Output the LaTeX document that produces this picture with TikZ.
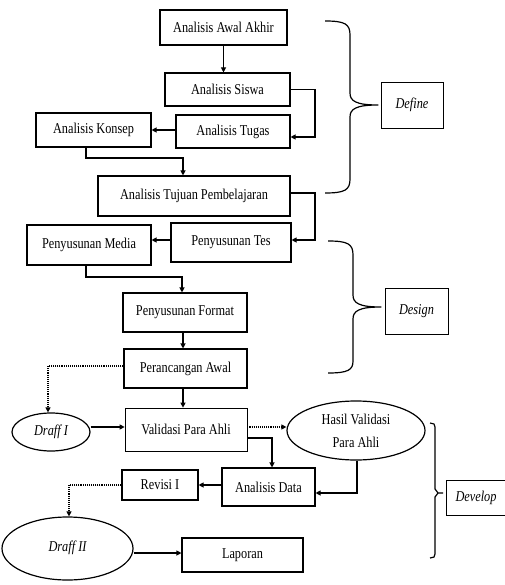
\documentclass[tikz,border=0pt]{standalone}
\usepackage{fontspec}
\setmainfont{Liberation Serif}[FakeStretch=0.82]
\usetikzlibrary{arrows.meta,shapes.geometric}
\tikzset{
  box/.style={draw,line width=1.1pt,inner sep=0pt,font=\fontsize{15}{17}\selectfont},
  thinbox/.style={draw,line width=0.7pt,inner sep=0pt,font=\fontsize{15}{17}\selectfont},
  oval/.style={draw,ellipse,line width=1.2pt,inner sep=0pt,font=\fontsize{15}{17}\selectfont},
  conn/.style={line width=1.1pt,-{Triangle[length=5pt,width=5pt]}},
  dotconn/.style={line width=1.1pt,densely dotted,-{Triangle[length=5pt,width=5pt]}},
  brace/.style={line width=1.2pt,line join=round}
}
\begin{document}
\begin{tikzpicture}[x=1pt,y=-1pt]
\useasboundingbox (0,0) rectangle (504,585);
% nodes
\node[box,minimum width=127pt,minimum height=35pt] (aaa) at (223.5,27.5) {Analisis Awal Akhir};
\node[box,minimum width=125pt,minimum height=33pt] (siswa) at (227.5,89.5) {Analisis Siswa};
\node[box,minimum width=114pt,minimum height=33pt] (tugas) at (233,131.5) {Analisis Tugas};
\node[box,minimum width=115pt,minimum height=34pt] (konsep) at (93.5,130) {Analisis Konsep};
\node[box,minimum width=192pt,minimum height=40pt] (tujuan) at (194,196) {Analisis Tujuan Pembelajaran};
\node[box,minimum width=120pt,minimum height=39pt] (tes) at (231,242.5) {Penyusunan Tes};
\node[box,minimum width=124pt,minimum height=40pt] (media) at (89,245) {Penyusunan Media};
\node[box,minimum width=124pt,minimum height=39pt] (format) at (185,312.5) {Penyusunan Format};
\node[box,minimum width=123pt,minimum height=39pt] (awal) at (185.5,368.5) {Perancangan Awal};
\node[oval,minimum width=78pt,minimum height=38pt] (draff1) at (51,432) {\itshape Draff I};
\node[thinbox,minimum width=122pt,minimum height=43pt] (valid) at (186,429.5) {Validasi Para Ahli};
\node[oval,minimum width=138pt,minimum height=59pt,align=center] (hasil) at (356,430.5) {Hasil Validasi\\[6pt]Para Ahli};
\node[box,minimum width=93pt,minimum height=38pt] (data) at (268.5,487) {Analisis Data};
\node[box,minimum width=76pt,minimum height=30pt] (revisi) at (160,485) {Revisi I};
\node[oval,minimum width=131pt,minimum height=63pt] (draff2) at (67.5,548.5) {\raisebox{4pt}{\itshape Draff II}};
\node[box,minimum width=121pt,minimum height=34pt] (lapor) at (242.5,555) {Laporan};
\node[thinbox,line width=0.9pt,minimum width=62pt,minimum height=46pt] (define) at (412,105) {\itshape Define};
\node[thinbox,line width=0.9pt,minimum width=63pt,minimum height=46pt] (design) at (416.5,311) {\itshape Design};
\node[thinbox,line width=0.9pt,minimum width=60pt,minimum height=35pt] (develop) at (476,497.5) {\itshape Develop};
% coordinates for bends
\coordinate (c1) at (315,89.5);
\coordinate (c2) at (315,137);
\coordinate (c3) at (86,158);
\coordinate (c4) at (183,158);
\coordinate (c5) at (315,193);
\coordinate (c6) at (315,240);
\coordinate (c7) at (86,277);
\coordinate (c8) at (182,277);
\coordinate (c9) at (48,366);
\coordinate (c10) at (272,438);
\coordinate (c11) at (357,493);
\coordinate (c12) at (69,485);
% connectors
\draw[conn] (aaa.south) -- (aaa.south |- siswa.north);
\draw[conn] (siswa.east) -- (c1) -- (c2) -- (c2 -| tugas.east);
\draw[conn] (tugas.west |- 0,130) -- (konsep.east |- 0,130);
\draw[conn] (c3 |- konsep.south) -- (c3) -- (c4) -- (c4 |- tujuan.north);
\draw[conn] (c5 -| tujuan.east) -- (c5) -- (c6) -- (c6 -| tes.east);
\draw[conn] (tes.west |- c6) -- (media.east |- c6);
\draw[conn] (c7 |- media.south) -- (c7) -- (c8) -- (c8 |- format.north);
\draw[conn] (183,0 |- format.south) -- (183,0 |- awal.north);
\draw[dotconn] (awal.west |- c9) -- (c9) -- (c9 |- draff1.north);
\draw[conn] (draff1.east |- 0,427) -- (valid.west |- 0,427);
\draw[conn] (183,0 |- awal.south) -- (183,0 |- valid.north);
\draw[dotconn] (valid.east |- 0,427) -- (hasil.west |- 0,427);
\draw[conn] (valid.east |- c10) -- (c10) -- (c10 |- data.north);
\draw[conn] (c11 |- hasil.south) -- (c11) -- (c11 -| data.east);
\draw[conn] (data.west |- 0,485) -- (revisi.east |- 0,485);
\draw[dotconn] (revisi.west) -- (c12) -- (c12 |- draff2.north);
\draw[conn] (draff2.east |- 0,553) -- (lapor.west |- 0,553);
% braces
\draw[brace] (325,21) .. controls (345,21) and (350,24) .. (350,35) -- (350,93)
  .. controls (350,101) and (356,105) .. (378,105)
  .. controls (356,105) and (350,109) .. (350,117) -- (350,179)
  .. controls (350,190) and (345,193) .. (325,193);
\draw[brace] (328,241) .. controls (348,241) and (353,244) .. (353,255) -- (353,295)
  .. controls (353,303) and (359,307) .. (381,307)
  .. controls (359,307) and (353,311) .. (353,319) -- (353,361)
  .. controls (353,370) and (348,373) .. (328,373);
\draw[brace] (430,423) -- (434,424) -- (435,427) -- (435,489) -- (438,493) -- (443,493);
\draw[brace] (438,493) -- (435,497) -- (435,554) -- (434,557) -- (430,558);
\end{tikzpicture}
\end{document}
